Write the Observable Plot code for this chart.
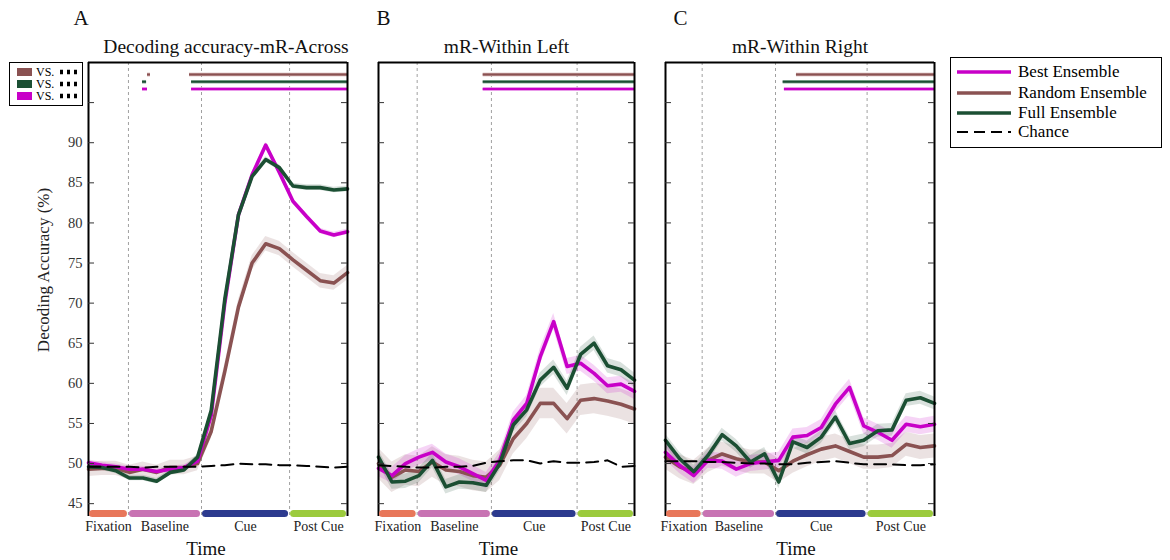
<!DOCTYPE html>
<html>
<head>
<meta charset="utf-8">
<script src="https://cdn.jsdelivr.net/npm/d3@7"></script>
<script src="https://cdn.jsdelivr.net/npm/@observablehq/plot@0.6"></script>
<style>
  body { margin: 0; background: #fff; font-family: "Liberation Serif", "Times New Roman", serif; }
  #wrap { position: relative; width: 1170px; height: 560px; overflow: hidden; background: #fff; }
  .panel { position: absolute; top: 0; }
  .panel svg { overflow: visible; }
  #ylabel { position: absolute; left: 44px; top: 270px; transform: translate(-50%, -50%) rotate(-90deg);
            font-size: 17px; white-space: nowrap; color: #222; }
  #legend { position: absolute; left: 950px; top: 57px; width: 210px; height: 89px; border: 1.5px solid #000;
            background: #fff; font-size: 17px; }
  .lrow { position: absolute; left: 0; height: 20px; display: flex; align-items: center; }
  .lrow svg { margin-left: 5px; margin-right: 6px; }
  #mini { position: absolute; left: 9px; top: 62px; width: 72px; height: 42px; border: 1.5px solid #000;
          background: #fff; font-size: 12px; z-index: 3; }
  .mrow { position: absolute; left: 0; height: 10px; display: flex; align-items: center; }
  .mrow .sw { width: 15px; height: 8px; margin-left: 7px; margin-right: 4px; }
</style>
</head>
<body>
<div id="wrap"></div>
<script>
// ---------- data ----------
const timePoints = [0, 1, 2, 3, 4, 5, 6, 7, 8, 9, 10, 11, 12, 13, 14, 15, 16, 17, 18, 19];

// Panel A: Decoding accuracy-mR-Across
const bestA   = [50.1, 49.8, 49.6, 49.3, 49.3, 49.0, 49.3, 49.5, 50.3, 56.0, 70.0, 81.0, 86.0, 89.7, 86.3, 82.7, 80.8, 79.0, 78.5, 78.9];
const randomA = [49.3, 49.4, 49.4, 48.9, 49.3, 48.9, 49.5, 49.5, 50.0, 54.0, 61.5, 69.5, 75.0, 77.4, 76.8, 75.4, 74.1, 72.8, 72.5, 73.8];
const fullA   = [49.6, 49.5, 49.1, 48.2, 48.2, 47.8, 48.9, 49.2, 50.8, 56.6, 70.5, 81.0, 85.8, 87.9, 86.9, 84.6, 84.4, 84.4, 84.1, 84.25];
const chanceA = [49.6, 49.6, 49.6, 49.6, 49.5, 49.6, 49.6, 49.6, 49.6, 49.7, 49.8, 50.0, 49.9, 49.9, 49.8, 49.8, 49.7, 49.6, 49.5, 49.6];

// Panel B: mR-Within Left
const bestB   = [49.4, 48.5, 50.0, 50.8, 51.4, 50.2, 49.6, 48.75, 47.9, 50.4, 55.4, 57.5, 63.3, 67.7, 62.1, 62.5, 61.25, 59.7, 59.9, 59.0];
const randomB = [50.0, 48.3, 49.2, 49.0, 50.2, 49.2, 49.0, 48.5, 48.3, 49.8, 53.1, 55.0, 57.5, 57.5, 55.6, 57.9, 58.1, 57.8, 57.4, 56.8];
const fullB   = [50.8, 47.7, 47.8, 48.5, 50.4, 47.1, 47.7, 47.6, 47.3, 50.0, 54.8, 56.7, 60.4, 62.0, 59.4, 63.6, 65.0, 62.2, 61.7, 60.4];
const chanceB = [49.8, 49.7, 49.6, 49.5, 49.5, 49.6, 49.6, 49.7, 50.1, 50.3, 50.4, 50.4, 50.0, 50.3, 50.1, 50.1, 50.2, 50.4, 49.6, 49.7];

// Panel C: mR-Within Right
const bestC   = [51.4, 49.75, 48.5, 50.4, 50.3, 49.3, 50.0, 50.2, 50.4, 53.3, 53.5, 54.5, 57.4, 59.5, 54.7, 53.9, 52.9, 54.9, 54.6, 54.9];
const randomC = [50.8, 49.6, 48.9, 50.4, 51.2, 50.6, 50.2, 50.2, 49.1, 50.3, 51.1, 51.8, 52.2, 51.5, 50.8, 50.8, 51.0, 52.4, 52.0, 52.2];
const fullC   = [52.9, 50.6, 49.0, 51.0, 53.6, 52.2, 50.2, 51.2, 47.7, 52.7, 52.0, 53.3, 55.8, 52.5, 52.9, 54.1, 54.2, 57.9, 58.2, 57.5];
const chanceC = [50.3, 50.3, 50.3, 50.2, 50.2, 50.1, 50.0, 50.0, 49.9, 49.9, 50.1, 50.2, 50.3, 50.1, 49.9, 49.9, 49.9, 49.8, 49.8, 49.9];

// error band half-widths (estimated), order: best, random, full
const semA = [0.35, 0.9, 0.35];
const semB = [1.0, 1.9, 0.9];
const semC = [1.0, 1.5, 0.8];

// task phases and their boundaries (in time-point units) for each panel
const phaseNames  = ["Fixation", "Baseline", "Cue", "Post Cue"];
const phaseBoundsA = [0, 2.93, 8.29, 14.75, 19];
const phaseBoundsB = [0, 2.87, 8.38, 14.74, 19];
const phaseBoundsC = [0, 2.59, 7.77, 14.24, 19];

// significance intervals (time-point units): [start, end]
const sigRandomA = [[4.33, 4.55], [7.41, 19]];
const sigFullA   = [[3.96, 4.26], [7.56, 19]];
const sigBestA   = [[3.96, 4.33], [7.56, 19]];
const sigRandomB = [[7.77, 19]];
const sigFullB   = [[7.77, 19]];
const sigBestB   = [[7.77, 19]];
const sigRandomC = [[9.25, 19]];
const sigFullC   = [[8.31, 19]];
const sigBestC   = [[8.40, 19]];
const sigLevels  = [98.5, 97.6, 96.7]; // random, full, best rows

const yTicks      = [45, 50, 55, 60, 65, 70, 75, 80, 85, 90, 95];
const yTickLabels = [45, 50, 55, 60, 65, 70, 75, 80, 85, 90];
const yDomain     = [43.4, 100];

const panelTitles  = ["Decoding accuracy-mR-Across", "mR-Within Left", "mR-Within Right"];
const panelLetters = ["A", "B", "C"];
const seriesNames  = ["Best Ensemble", "Random Ensemble", "Full Ensemble", "Chance"];

// ---------- style ----------
const COL = { best: "#C800C8", random: "#8A5252", full: "#1B4F33" };
const HALO = { best: "#E27AE2", random: "#C9A3A3", full: "#8FB3A0" };
const phaseColors = ["#E8775A", "#C873B3", "#2C3A8E", "#9CCB3D"];
const FONT = "'Liberation Serif', 'Times New Roman', serif";

function makeRows(arr) { return timePoints.map((t, i) => ({ t, v: arr[i] })); }

function drawPanel(p) {
  const innerW = p.width - p.ml - p.mr;
  const sem = { best: p.sem[0], random: p.sem[1], full: p.sem[2] };
  const rows = { best: makeRows(p.best), random: makeRows(p.random), full: makeRows(p.full) };
  const chance = makeRows(p.chance);
  const phases = phaseNames.map((name, i) => ({ name, x1: p.bounds[i], x2: p.bounds[i + 1], color: phaseColors[i] }));
  const sig = [];
  p.sigRandom.forEach(([a, b]) => sig.push({ x1: a, x2: b, y: sigLevels[0], k: "random" }));
  p.sigFull.forEach(([a, b]) => sig.push({ x1: a, x2: b, y: sigLevels[1], k: "full" }));
  p.sigBest.forEach(([a, b]) => sig.push({ x1: a, x2: b, y: sigLevels[2], k: "best" }));

  const marks = [
    Plot.ruleX(p.bounds.slice(1, -1), { stroke: "#a0a0a0", strokeWidth: 1, strokeDasharray: "3,3" }),
  ];
  for (const k of ["random", "best", "full"]) {
    marks.push(Plot.areaY(rows[k], { x: "t", y1: d => d.v - sem[k], y2: d => d.v + sem[k], fill: COL[k], fillOpacity: 0.17, curve: "linear" }));
  }
  for (const k of ["random", "best", "full"]) {
    marks.push(Plot.line(rows[k], { x: "t", y: "v", stroke: COL[k], strokeWidth: 3.6, strokeLinejoin: "round" }));
  }
  marks.push(Plot.line(chance, { x: "t", y: "v", stroke: "#000", strokeWidth: 2, strokeDasharray: "12,7" }));
  // significance bars
  marks.push(Plot.ruleY(sig, { y: "y", x1: "x1", x2: "x2", stroke: d => HALO[d.k], strokeWidth: 3.6 }));
  marks.push(Plot.ruleY(sig, { y: "y", x1: "x1", x2: "x2", stroke: d => COL[d.k], strokeWidth: 2 }));
  // frame: left, right, top
  marks.push(Plot.ruleX([0, 19], { stroke: "#000", strokeWidth: 2 }));
  marks.push(Plot.ruleY([yDomain[1]], { stroke: "#000", strokeWidth: 2 }));
  // inward ticks on both sides
  marks.push(Plot.tickY(yTicks, { y: d => d, insetRight: innerW - 6, stroke: "#333", strokeWidth: 1 }));
  marks.push(Plot.tickY(yTicks, { y: d => d, insetLeft: innerW - 6, stroke: "#333", strokeWidth: 1 }));
  if (p.labels) {
    marks.push(Plot.text(yTickLabels, { y: d => d, frameAnchor: "left", dx: -6, textAnchor: "end", lineAnchor: "middle", fontSize: 14.5, fill: "#333", fontFamily: FONT }));
  }
  // phase bars
  marks.push(Plot.ruleY(phases, { y: () => yDomain[0], dy: -3, x1: "x1", x2: "x2", stroke: "color", strokeWidth: 7, strokeLinecap: "round", insetLeft: 4.5, insetRight: 4.5 }));
  marks.push(Plot.text(phases, { x: d => (d.x1 + d.x2) / 2, frameAnchor: "bottom", lineAnchor: "middle", dy: 10, text: "name", fontSize: 14, fill: "#222", fontFamily: FONT }));
  marks.push(Plot.text(["Time"], { frameAnchor: "bottom", lineAnchor: "middle", dy: 32, dx: p.timeDx, fontSize: 19, fill: "#111", fontFamily: FONT }));
  marks.push(Plot.text([p.title], { frameAnchor: "top", lineAnchor: "middle", dy: -16, dx: p.titleDx, fontSize: 19.5, fill: "#111", fontFamily: FONT }));
  marks.push(Plot.text([p.letter], { frameAnchor: "top-left", lineAnchor: "middle", dx: p.letterDx, dy: -44, fontSize: 21, fill: "#111", fontFamily: FONT }));

  const svg = Plot.plot({
    width: p.width, height: 560,
    marginLeft: p.ml, marginRight: p.mr, marginTop: 62, marginBottom: 44,
    x: { domain: [0, 19], axis: null },
    y: { domain: yDomain, axis: null },
    style: { background: "transparent", fontFamily: FONT, overflow: "visible" },
    marks
  });
  const div = document.createElement("div");
  div.className = "panel";
  div.style.left = p.left + "px";
  div.appendChild(svg);
  return div;
}

const wrap = document.getElementById("wrap");
const panels = [
  { left: 0, width: 360, ml: 88, mr: 13, best: bestA, random: randomA, full: fullA, chance: chanceA, sem: semA,
    bounds: phaseBoundsA, sigRandom: sigRandomA, sigFull: sigFullA, sigBest: sigBestA, labels: true,
    title: panelTitles[0], letter: panelLetters[0], titleDx: 8, timeDx: -12, letterDx: -15 },
  { left: 360, width: 290, ml: 18, mr: 16, best: bestB, random: randomB, full: fullB, chance: chanceB, sem: semB,
    bounds: phaseBoundsB, sigRandom: sigRandomB, sigFull: sigFullB, sigBest: sigBestB, labels: false,
    title: panelTitles[1], letter: panelLetters[1], titleDx: 0, timeDx: -8, letterDx: -2 },
  { left: 650, width: 300, ml: 15, mr: 16, best: bestC, random: randomC, full: fullC, chance: chanceC, sem: semC,
    bounds: phaseBoundsC, sigRandom: sigRandomC, sigFull: sigFullC, sigBest: sigBestC, labels: false,
    title: panelTitles[2], letter: panelLetters[2], titleDx: 0, timeDx: -4, letterDx: 8 }
];
panels.forEach(p => wrap.appendChild(drawPanel(p)));

// y-axis label
const yl = document.createElement("div");
yl.id = "ylabel";
yl.textContent = "Decoding Accuracy (%)";
wrap.appendChild(yl);

// right legend
const leg = document.createElement("div");
leg.id = "legend";
const legColors = [COL.best, COL.random, COL.full, "#000"];
const legTops = [4, 25, 45, 64];
seriesNames.forEach((name, i) => {
  const r = document.createElement("div");
  r.className = "lrow";
  r.style.top = legTops[i] + "px";
  const dash = i === 3 ? 'stroke-dasharray="11,6"' : "";
  const sw = i === 3 ? 2 : 3.6;
  r.innerHTML = `<svg width="56" height="10"><line x1="1" y1="5" x2="55" y2="5" stroke="${legColors[i]}" stroke-width="${sw}" ${dash}/></svg><span>${name}</span>`;
  leg.appendChild(r);
});
wrap.appendChild(leg);

// mini significance legend in panel A
const mini = document.createElement("div");
mini.id = "mini";
const miniCols = [COL.random, COL.full, COL.best];
miniCols.forEach((c, i) => {
  const r = document.createElement("div");
  r.className = "mrow";
  r.style.top = (4 + i * 12) + "px";
  r.innerHTML = `<div class="sw" style="background:${c}"></div><span style="width:22px">VS.</span><svg width="22" height="8"><line x1="2" y1="4" x2="20" y2="4" stroke="#000" stroke-width="4.5" stroke-dasharray="3,4"/></svg>`;
  mini.appendChild(r);
});
wrap.appendChild(mini);
</script>
</body>
</html>
